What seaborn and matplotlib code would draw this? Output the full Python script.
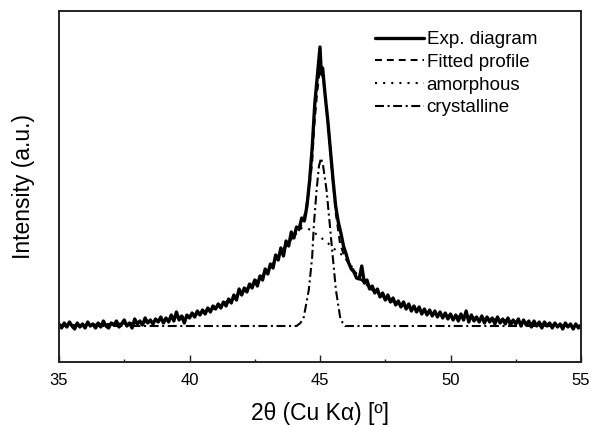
import numpy as np
import pandas as pd
import matplotlib
matplotlib.use("Agg")
import matplotlib.pyplot as plt
import seaborn as sns

# ---------------- data ----------------
exp_x = [round(35.0 + 0.1 * i, 2) for i in range(91)] + [
    44.1, 44.2, 44.3, 44.4, 44.5, 44.6, 44.7, 44.8, 44.9, 44.95, 45.0, 45.05,
    45.1, 45.2, 45.3, 45.4, 45.5, 45.6, 45.7, 45.8, 45.9, 46.0, 46.1, 46.2,
] + [round(46.3 + 0.1 * i, 2) for i in range(88)]

exp_y = [
    # 35.0 - 44.0
    2, -2, 3, -1, 4, 0, -3, 3, -1, 2,
    -2, 4, 0, 2, -2, 3, -1, 5, 0, -2,
    3, 1, 5, -1, 2, 6, 0, 3, -2, 7,
    2, 5, 1, 8, 3, 6, 2, 7, 4, 9,
    3, 8, 4, 11, 5, 14, 6, 10, 3, 11,
    8, 13, 9, 15, 11, 16, 12, 18, 14, 20,
    17, 22, 18, 24, 20, 27, 23, 31, 26, 37,
    31, 38, 34, 42, 38, 46, 40, 50, 46, 57,
    52, 62, 58, 71, 66, 78, 70, 85, 80, 94,
    88,
    # 44.1 - 46.2 (peak)
    99, 97, 108, 105, 120, 145, 178, 222, 250, 264, 279, 252,
    258, 230, 205, 176, 146, 120, 104, 93, 80, 72, 63, 57,
    # 46.3 - 55.0
    54, 48, 47, 60, 43, 46, 37, 40, 33, 37,
    29, 33, 26, 31, 24, 28, 21, 25, 19, 24,
    17, 22, 15, 20, 14, 19, 12, 17, 11, 16,
    10, 15, 9, 14, 8, 13, 7, 12, 6, 11,
    5, 12, 6, 15, 4, 11, 5, 9, 4, 10,
    3, 9, 4, 8, 2, 9, 3, 7, 2, 8,
    1, 6, 2, 7, 0, 6, 1, 5, -1, 5,
    0, 4, -2, 4, 0, 3, -2, 3, -1, 2,
    -3, 3, -1, 2, -3, 2, -2, 1,
]

fit_x = [35, 36, 37, 38, 39, 40, 41, 42, 43, 43.5, 44, 44.2, 44.38, 44.57,
         44.70, 44.77, 44.87, 44.96, 45.04, 45.12, 45.25, 45.37, 45.49, 45.61,
         45.77, 45.96, 46.5, 47, 47.5, 48, 48.5, 49, 50, 51, 52, 53, 54, 55]
fit_y = [1, 1, 2, 3, 6, 10, 18, 33, 55, 74, 90, 96, 107, 133,
         164, 197, 228, 250, 257, 247, 220, 185, 147, 112,
         82, 68, 48, 36, 28, 22, 18, 14, 10, 8, 6, 3, 1, 0]

amo_x = [35, 36, 37, 38, 39, 40, 40.5, 41, 41.5, 42, 42.5, 43, 43.5, 44,
         44.3, 44.5, 44.7, 44.9, 45.1, 45.3, 45.5, 45.7, 46, 46.5, 47, 47.5,
         48, 48.5, 49, 49.5, 50, 51, 52, 53, 54, 55]
amo_y = [1, 1, 2, 3, 6, 10, 13, 18, 24, 33, 43, 55, 74, 90,
         98, 98, 95, 91, 87, 83, 78, 74, 68, 48, 36, 28,
         22, 18, 14, 12, 10, 8, 6, 3, 1, 0]

cry_x = [35, 44.1, 44.25, 44.38, 44.57, 44.70, 44.77, 44.87, 44.96, 45.04,
         45.12, 45.25, 45.37, 45.49, 45.61, 45.77, 45.87, 45.96, 55]
cry_y = [0, 0, 3, 9, 36, 69, 103, 136, 160, 168,
         160, 136, 103, 69, 36, 9, 3, 0, 0]

labels = ["Exp. diagram", "Fitted profile", "amorphous", "crystalline"]
x_ticks = [35, 40, 45, 50, 55]
x_minor = [37.5, 42.5, 47.5, 52.5]

# ---------------- style ----------------
sns.set_theme(style="white")
plt.rcParams["font.family"] = ["Liberation Sans", "DejaVu Sans"]
plt.rcParams["text.color"] = "black"
plt.rcParams["axes.labelcolor"] = "black"
plt.rcParams["xtick.color"] = "black"

fig = plt.figure(figsize=(5.92, 4.25), dpi=100)
ax = fig.add_axes([59 / 592, 63 / 425, 522 / 592, 351.5 / 425])

d_exp = pd.DataFrame({"x": exp_x, "y": exp_y})
d_fit = pd.DataFrame({"x": fit_x, "y": fit_y})
d_amo = pd.DataFrame({"x": amo_x, "y": amo_y})
d_cry = pd.DataFrame({"x": cry_x, "y": cry_y})

sns.lineplot(data=d_exp, x="x", y="y", ax=ax, color="black", lw=2.4,
             label=labels[0], estimator=None, sort=False)
sns.lineplot(data=d_fit, x="x", y="y", ax=ax, color="black", lw=1.5,
             linestyle=(0, (3.3, 2.4)), label=labels[1], estimator=None, sort=False)
sns.lineplot(data=d_amo, x="x", y="y", ax=ax, color="black", lw=1.5,
             linestyle=(0, (1.0, 2.9)), label=labels[2], estimator=None, sort=False)
sns.lineplot(data=d_cry, x="x", y="y", ax=ax, color="black", lw=1.5,
             linestyle=(0, (4.3, 1.7, 1.0, 1.7)), label=labels[3], estimator=None, sort=False)

ax.set_xlim(35, 55)
ax.set_ylim(-36, 315.5)
ax.set_xticks(x_ticks)
ax.set_xticklabels([str(t) for t in x_ticks])
ax.set_xticks(x_minor, minor=True)
ax.set_yticks([])
ax.tick_params(axis="x", which="major", direction="in", length=5, width=1.0,
               labelsize=12, pad=8, colors="#222222", labelcolor="black")
ax.tick_params(axis="x", which="minor", direction="in", length=2.5, width=1.0,
               colors="#222222")
ax.tick_params(axis="x", which="both", bottom=True, top=False)
for s in ax.spines.values():
    s.set_visible(True)
    s.set_linewidth(1.4)
    s.set_color("#222222")

ax.set_xlabel("2θ (Cu Kα) [º]", fontsize=16.5, labelpad=10)
ax.set_ylabel("Intensity (a.u.)", fontsize=16.5, labelpad=17)

leg = ax.legend(loc="upper left", bbox_to_anchor=(375 / 592, 1 - 31 / 425),
                bbox_transform=fig.transFigure, frameon=False, fontsize=13.5,
                handlelength=2.6, handletextpad=0.15, labelspacing=0.3,
                borderpad=0, borderaxespad=0)
for h in leg.get_lines():
    h.set_color("black")

fig.savefig("out.png", dpi=100)
